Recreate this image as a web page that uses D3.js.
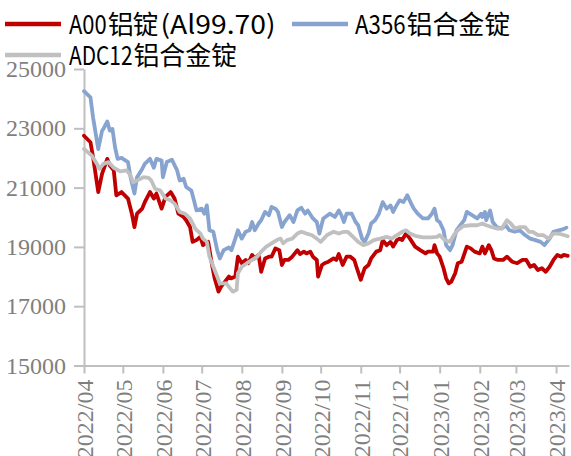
<!DOCTYPE html>
<html>
<head>
<meta charset="utf-8">
<script src="https://cdn.jsdelivr.net/npm/d3@7"></script>
<style>
  body { margin: 0; background: #ffffff; }
  svg { display: block; }
  .tick-label { font-family: "Liberation Serif", serif; font-size: 24px; }
  .legend-label { font-family: "Noto Sans CJK SC", sans-serif; font-size: 26px; }
</style>
</head>
<body>
<svg id="chart" width="571" height="456"></svg>
<script>
// Series labels and y-axis tick values
const seriesNames = ["A00铝锭(Al99.70)", "A356铝合金锭", "ADC12铝合金锭"];
const yTickValues = [15000, 17000, 19000, 21000, 23000, 25000];

// A00 aluminium ingot price (yuan/t)
const a00Prices = [
  ["2022-04-01",22750],["2022-04-06",22530],["2022-04-08",22030],["2022-04-12",20850],
  ["2022-04-15",21470],["2022-04-19",21970],["2022-04-21",21740],["2022-04-24",21580],
  ["2022-04-26",20740],["2022-04-30",20850],["2022-05-05",20630],["2022-05-08",20120],
  ["2022-05-10",19670],["2022-05-12",20120],["2022-05-16",20290],["2022-05-18",20510],
  ["2022-05-22",20850],["2022-05-25",20630],["2022-05-27",20800],["2022-05-31",20290],
  ["2022-06-03",20690],["2022-06-07",20850],["2022-06-10",20630],["2022-06-13",20120],
  ["2022-06-17",20010],["2022-06-19",19900],["2022-06-22",19670],["2022-06-24",19170],
  ["2022-06-27",19230],["2022-06-30",19340],["2022-07-02",19060],["2022-07-06",19170],
  ["2022-07-09",18390],["2022-07-11",17940],["2022-07-14",17490],["2022-07-16",17660],
  ["2022-07-19",17830],["2022-07-22",18000],["2022-07-24",17940],["2022-07-27",18000],
  ["2022-07-29",18670],["2022-08-01",18450],["2022-08-04",18560],["2022-08-06",18450],
  ["2022-08-09",18730],["2022-08-11",18610],["2022-08-14",18730],["2022-08-16",18160],
  ["2022-08-19",18610],["2022-08-22",18670],["2022-08-24",18670],["2022-08-27",18950],
  ["2022-08-30",18890],["2022-09-01",18390],["2022-09-03",18560],["2022-09-06",18560],
  ["2022-09-09",18670],["2022-09-13",18890],["2022-09-15",18760],["2022-09-18",18840],
  ["2022-09-20",18780],["2022-09-23",18840],["2022-09-25",18670],["2022-09-28",18560],
  ["2022-09-29",18000],["2022-10-02",18390],["2022-10-04",18450],["2022-10-07",18500],
  ["2022-10-11",18610],["2022-10-13",18560],["2022-10-15",18760],["2022-10-18",18390],
  ["2022-10-21",18670],["2022-10-24",18670],["2022-10-27",18560],["2022-10-29",18280],
  ["2022-11-01",17890],["2022-11-04",18280],["2022-11-07",18390],["2022-11-09",18610],
  ["2022-11-13",18840],["2022-11-16",18890],["2022-11-18",19230],["2022-11-21",19060],
  ["2022-11-24",19170],["2022-11-26",19010],["2022-11-29",19230],["2022-12-01",19280],
  ["2022-12-03",19230],["2022-12-06",19450],["2022-12-09",19280],["2022-12-13",19010],
  ["2022-12-17",18890],["2022-12-21",18780],["2022-12-23",18840],["2022-12-27",18840],
  ["2022-12-28",19060],["2022-12-30",18780],["2023-01-01",18670],["2023-01-04",18280],
  ["2023-01-06",17940],["2023-01-08",17770],["2023-01-10",17830],["2023-01-13",18110],
  ["2023-01-15",18450],["2023-01-18",18500],["2023-01-22",19010],["2023-01-25",18950],
  ["2023-01-28",18840],["2023-02-01",18780],["2023-02-03",19010],["2023-02-05",18780],
  ["2023-02-08",19060],["2023-02-10",18890],["2023-02-12",18610],["2023-02-15",18560],
  ["2023-02-19",18560],["2023-02-22",18670],["2023-02-26",18500],["2023-03-02",18450],
  ["2023-03-06",18560],["2023-03-09",18560],["2023-03-12",18330],["2023-03-15",18390],
  ["2023-03-18",18220],["2023-03-21",18280],["2023-03-24",18160],["2023-03-27",18330],
  ["2023-03-30",18560],["2023-04-02",18730],["2023-04-05",18670],["2023-04-07",18730],
  ["2023-04-10",18700]
];

// A356 aluminium alloy ingot price (yuan/t)
const a356Prices = [
  ["2022-04-01",24250],["2022-04-06",24040],["2022-04-08",23370],["2022-04-12",22300],
  ["2022-04-15",22920],["2022-04-16",22980],["2022-04-19",23230],["2022-04-21",22920],
  ["2022-04-23",22980],["2022-04-25",22360],["2022-04-27",21970],["2022-04-30",22000],
  ["2022-05-05",21860],["2022-05-07",21350],["2022-05-10",20800],["2022-05-12",21350],
  ["2022-05-16",21630],["2022-05-18",21800],["2022-05-22",21970],["2022-05-25",21670],
  ["2022-05-27",21970],["2022-05-31",21910],["2022-06-01",21350],["2022-06-04",21860],
  ["2022-06-08",21940],["2022-06-12",21580],["2022-06-14",21240],["2022-06-17",21300],
  ["2022-06-19",21020],["2022-06-23",20900],["2022-06-25",20570],["2022-06-27",20230],
  ["2022-07-01",20290],["2022-07-03",20120],["2022-07-05",20400],["2022-07-07",19560],
  ["2022-07-10",19510],["2022-07-13",18890],["2022-07-15",18610],["2022-07-18",18890],
  ["2022-07-22",18980],["2022-07-24",18890],["2022-07-27",19280],["2022-07-29",19560],
  ["2022-08-01",19280],["2022-08-04",19510],["2022-08-07",19560],["2022-08-09",19840],
  ["2022-08-11",19560],["2022-08-14",19790],["2022-08-16",19900],["2022-08-19",20180],
  ["2022-08-22",20070],["2022-08-24",20350],["2022-08-27",20290],["2022-08-29",20180],
  ["2022-09-01",19670],["2022-09-03",19840],["2022-09-07",20070],["2022-09-10",19840],
  ["2022-09-13",20230],["2022-09-16",20320],["2022-09-19",20120],["2022-09-21",20230],
  ["2022-09-25",19960],["2022-09-28",19840],["2022-09-30",19450],["2022-10-03",19960],
  ["2022-10-08",20120],["2022-10-12",20010],["2022-10-15",20230],["2022-10-17",20070],
  ["2022-10-19",19840],["2022-10-21",20120],["2022-10-25",20120],["2022-10-28",19840],
  ["2022-10-30",19730],["2022-11-02",19280],["2022-11-04",19170],["2022-11-07",19450],
  ["2022-11-09",19790],["2022-11-12",19900],["2022-11-15",20120],["2022-11-18",20510],
  ["2022-11-21",20290],["2022-11-24",20400],["2022-11-26",20180],["2022-11-28",20350],
  ["2022-12-01",20570],["2022-12-04",20510],["2022-12-07",20740],["2022-12-10",20460],
  ["2022-12-12",20290],["2022-12-15",20120],["2022-12-19",19960],["2022-12-23",19960],
  ["2022-12-26",20120],["2022-12-28",20290],["2022-12-30",19900],["2023-01-01",19840],
  ["2023-01-04",19560],["2023-01-06",19060],["2023-01-09",18890],["2023-01-11",19060],
  ["2023-01-14",19560],["2023-01-17",19730],["2023-01-20",19900],["2023-01-22",20180],
  ["2023-01-26",20070],["2023-01-30",19960],["2023-02-02",20120],["2023-02-03",20010],
  ["2023-02-05",20180],["2023-02-06",19900],["2023-02-09",20230],["2023-02-11",19840],
  ["2023-02-14",19670],["2023-02-18",19620],["2023-02-21",19730],["2023-02-24",19560],
  ["2023-02-28",19510],["2023-03-04",19560],["2023-03-08",19400],["2023-03-12",19280],
  ["2023-03-16",19230],["2023-03-20",19170],["2023-03-23",19060],["2023-03-27",19280],
  ["2023-03-30",19510],["2023-04-03",19560],["2023-04-06",19590],["2023-04-09",19650]
];

// ADC12 aluminium alloy ingot price (yuan/t)
const adc12Prices = [
  ["2022-04-01",22300],["2022-04-07",22080],["2022-04-11",21800],["2022-04-13",21630],
  ["2022-04-16",21800],["2022-04-20",21860],["2022-04-24",21670],["2022-04-29",21550],
  ["2022-05-04",21580],["2022-05-07",21410],["2022-05-09",21180],["2022-05-13",21260],
  ["2022-05-17",21350],["2022-05-21",21330],["2022-05-23",21240],["2022-05-26",20960],
  ["2022-05-30",20900],["2022-06-03",20630],["2022-06-07",20570],["2022-06-10",20460],
  ["2022-06-14",20180],["2022-06-18",20120],["2022-06-22",19960],["2022-06-26",19620],
  ["2022-06-30",19450],["2022-07-02",19280],["2022-07-05",19170],["2022-07-07",18670],
  ["2022-07-10",18330],["2022-07-13",18000],["2022-07-15",17770],["2022-07-18",17770],
  ["2022-07-20",17770],["2022-07-23",17600],["2022-07-25",17490],["2022-07-28",17550],
  ["2022-07-29",18110],["2022-08-01",18330],["2022-08-05",18450],["2022-08-09",18560],
  ["2022-08-13",18670],["2022-08-16",18840],["2022-08-20",19010],["2022-08-24",19120],
  ["2022-08-28",19230],["2022-08-31",19280],["2022-09-02",19120],["2022-09-05",19230],
  ["2022-09-09",19280],["2022-09-13",19450],["2022-09-16",19510],["2022-09-20",19450],
  ["2022-09-24",19400],["2022-09-28",19280],["2022-10-01",19170],["2022-10-06",19400],
  ["2022-10-11",19510],["2022-10-15",19450],["2022-10-19",19510],["2022-10-22",19510],
  ["2022-10-26",19340],["2022-10-30",19170],["2022-11-03",19060],["2022-11-07",19120],
  ["2022-11-11",19230],["2022-11-16",19280],["2022-11-21",19340],["2022-11-25",19280],
  ["2022-11-29",19400],["2022-12-03",19510],["2022-12-06",19560],["2022-12-09",19450],
  ["2022-12-14",19360],["2022-12-19",19320],["2022-12-25",19320],["2022-12-30",19340],
  ["2023-01-01",19400],["2023-01-05",19230],["2023-01-09",19170],["2023-01-12",19400],
  ["2023-01-15",19560],["2023-01-19",19700],["2023-01-25",19730],["2023-01-30",19730],
  ["2023-02-03",19790],["2023-02-06",19730],["2023-02-10",19670],["2023-02-14",19620],
  ["2023-02-18",19620],["2023-02-22",19900],["2023-02-25",19790],["2023-02-28",19620],
  ["2023-03-04",19670],["2023-03-08",19670],["2023-03-11",19510],["2023-03-14",19510],
  ["2023-03-18",19400],["2023-03-22",19400],["2023-03-26",19280],["2023-03-30",19450],
  ["2023-04-03",19450],["2023-04-07",19400],["2023-04-10",19360]
];

const parseDate = d3.timeParse("%Y-%m-%d");
const svg = d3.select("#chart");

const x = d3.scaleTime()
  .domain([parseDate("2022-04-01"), parseDate("2023-04-11")])
  .range([84, 569]);
const y = d3.scaleLinear()
  .domain([15000, 25000])
  .range([365.5, 69]);

const axisColor = "#bfbfbf";
const labelColor = "#7f7f7f";

// Y axis
const gy = svg.append("g")
  .attr("transform", "translate(84,0)")
  .call(d3.axisLeft(y).tickValues(yTickValues).tickSize(10).tickSizeOuter(0)
    .tickPadding(8).tickFormat(d3.format("d")));
gy.attr("font-family", null).attr("font-size", null);
gy.selectAll("path, line").attr("stroke", axisColor).attr("stroke-width", 2);
gy.selectAll("text").attr("class", "tick-label").attr("fill", labelColor);

// X axis with monthly ticks, labels rotated to read upward
const gx = svg.append("g")
  .attr("transform", `translate(0,${y(15000)})`)
  .call(d3.axisBottom(x).ticks(d3.timeMonth.every(1)).tickSize(8).tickSizeOuter(0)
    .tickFormat(d3.timeFormat("%Y/%m")));
gx.attr("font-family", null).attr("font-size", null);
gx.selectAll("path, line").attr("stroke", axisColor).attr("stroke-width", 2);
gx.selectAll("text")
  .attr("class", "tick-label")
  .attr("fill", labelColor)
  .attr("transform", "rotate(-90)")
  .attr("x", -14).attr("y", 0).attr("dy", "0.35em")
  .style("text-anchor", "end");

// Price lines
const line = d3.line()
  .x(d => x(parseDate(d[0])))
  .y(d => y(d[1]));

const series = [
  { name: seriesNames[0], data: a00Prices,  color: "#c00000" },
  { name: seriesNames[1], data: a356Prices, color: "#87a3cf" },
  { name: seriesNames[2], data: adc12Prices, color: "#c0c0c0" }
];

svg.append("g").selectAll("path")
  .data(series)
  .join("path")
  .attr("d", s => line(s.data))
  .attr("fill", "none")
  .attr("stroke", s => s.color)
  .attr("stroke-width", 3.8)
  .attr("stroke-linejoin", "round")
  .attr("stroke-linecap", "round");

// Legend: swatch line plus label; Latin runs are set half-width, CJK runs full-width
const legendPos = [
  { lx: 5,   ly: 24, tx: 69,  ty: 33.5 },
  { lx: 292, ly: 24, tx: 355, ty: 33.5 },
  { lx: 5,   ly: 55, tx: 69,  ty: 64.5 }
];
const halfWidth = 12.9, fullWidth = 26.4;
const legend = svg.append("g");
series.forEach((s, i) => {
  const p = legendPos[i];
  legend.append("line")
    .attr("x1", p.lx).attr("x2", p.lx + 56)
    .attr("y1", p.ly).attr("y2", p.ly)
    .attr("stroke", s.color).attr("stroke-width", 4.5);
  const label = legend.append("text")
    .attr("class", "legend-label")
    .attr("y", p.ty)
    .attr("fill", "#000000");
  let cx = p.tx;
  s.name.match(/[\x00-\x7F]+|[^\x00-\x7F]+/g).forEach(run => {
    const latin = /^[\x00-\x7F]/.test(run);
    const w = run.length * (latin ? halfWidth : fullWidth);
    label.append("tspan")
      .attr("x", cx)
      .attr("textLength", latin ? w - 1 : w - 2)
      .attr("lengthAdjust", latin ? "spacingAndGlyphs" : "spacing")
      .text(run);
    cx += w;
  });
});
</script>
</body>
</html>
